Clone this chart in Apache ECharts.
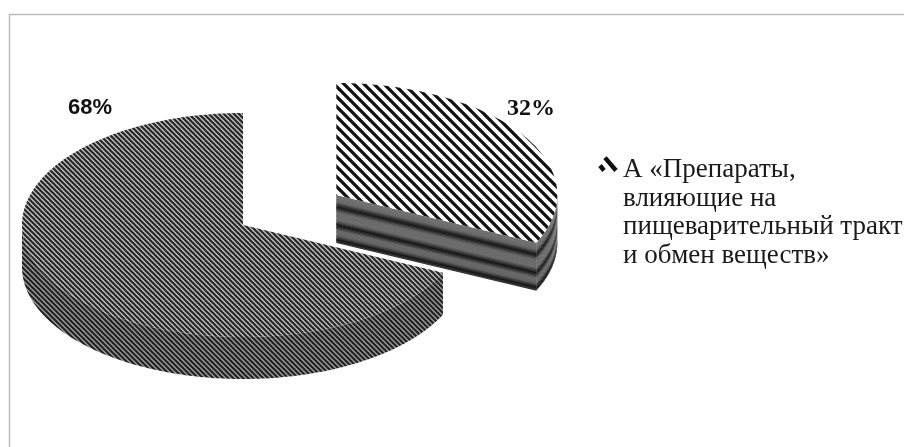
<!DOCTYPE html>
<html>
<head>
<meta charset="utf-8">
<script src="https://cdn.jsdelivr.net/npm/echarts@6/dist/echarts.min.js"></script>
<style>
  html, body { margin: 0; padding: 0; background: #fff; }
  #chart { width: 904px; height: 447px; }
</style>
</head>
<body>
<div id="chart"></div>
<script>
// Legend caption of the highlighted group, one entry per printed line
const legendLines = ['А «Препараты,', 'влияющие на', 'пищеварительный тракт', 'и обмен веществ»'];
// Slice categories (only the first one appears in the legend)
const categories = [legendLines.join(' '), 'Прочие'];
// Share of each category, %
const shares = [32, 68];

const rad = Math.PI / 180;

// Drawing layout for the tilted pie
const look = {
  cx: 243, cy: 225,      // pie centre
  rx: 221, ry: 112,      // ellipse radii of the top face
  depth: [48, 42],       // thickness of each slice
  explode: [0.5, 0],     // pull-out of each slice, in radius units
  labelAt: [[531, 109], [90, 108]],
  labelFont: ['bold 24px "Liberation Serif"', 'bold 22px "Liberation Sans"']
};

// Hatched tiles: diagonal "\" lines
function stripeTile(size, bg, fg, lw) {
  const c = document.createElement('canvas');
  c.width = c.height = size;
  const g = c.getContext('2d');
  g.fillStyle = bg;
  g.fillRect(0, 0, size, size);
  g.strokeStyle = fg;
  g.lineWidth = lw;
  g.beginPath();
  for (let k = -1; k <= 1; k++) {
    g.moveTo(k * size - 1, -1);
    g.lineTo(k * size + size + 1, size + 1);
  }
  g.stroke();
  return c;
}
const pat = (canvas) => ({ image: canvas, repeat: 'repeat' });

const sliceLook = [
  { // highlighted group: wide black-and-white hatch, banded sides
    top: pat(stripeTile(10, '#ffffff', '#111111', 3.3)),
    bands: [[0, 0x72], [0.14, 0x6a], [0.25, 0x14], [0.36, 0x6a], [0.52, 0x6c],
            [0.63, 0x14], [0.74, 0x6a], [0.84, 0x64], [0.93, 0x16], [1, 0x40]]
  },
  { // remaining share: fine grey hatch
    top: pat(stripeTile(5, '#d4d4d4', '#2c2c2c', 2.3)),
    side: pat(stripeTile(5, '#9a9a9a', '#222222', 2.1))
  }
];

function grayAt(stops, f) {
  for (let i = 1; i < stops.length; i++) {
    if (f <= stops[i][0]) {
      const [f0, v0] = stops[i - 1], [f1, v1] = stops[i];
      const v = Math.round(v0 + (v1 - v0) * (f - f0) / (f1 - f0));
      return 'rgb(' + v + ',' + v + ',' + v + ')';
    }
  }
  const v = stops[stops.length - 1][1];
  return 'rgb(' + v + ',' + v + ',' + v + ')';
}

function rimPoint(cx, cy, a) {
  return [cx + look.rx * Math.sin(a * rad), cy - look.ry * Math.cos(a * rad)];
}
function arc(cx, cy, a0, a1) {
  const n = Math.max(2, Math.ceil(Math.abs(a1 - a0)));
  const pts = [];
  for (let i = 0; i <= n; i++) pts.push(rimPoint(cx, cy, a0 + (a1 - a0) * i / n));
  return pts;
}

// A vertical wall hanging under the edge "edge", filled either with a pattern or with bands
function wall(edge, st, d) {
  if (st.side) {
    const pts = edge.concat(edge.slice().reverse().map(p => [p[0], p[1] + d]));
    return [{ type: 'polygon', shape: { points: pts }, style: { fill: st.side } }];
  }
  const out = [];
  const n = 36;
  for (let i = 0; i < n; i++) {
    const f0 = i / n, f1 = (i + 1) / n;
    const y0 = d * f0, y1 = Math.min(d, d * f1 + 0.7);
    const pts = edge.map(p => [p[0], p[1] + y0])
      .concat(edge.slice().reverse().map(p => [p[0], p[1] + y1]));
    out.push({ type: 'polygon', shape: { points: pts }, style: { fill: grayAt(st.bands, (f0 + f1) / 2) } });
  }
  return out;
}

function sliceRenderer(idx) {
  return function (params, api) {
    const total = shares.reduce((s, v) => s + v, 0);
    const before = shares.slice(0, idx).reduce((s, v) => s + v, 0);
    const val = api.value(0);
    const a0 = before / total * 360;
    const a1 = (before + val) / total * 360;
    const mid = (a0 + a1) / 2;
    const ex = look.explode[idx];
    const d = look.depth[idx];
    const cx = look.cx + look.rx * ex * Math.sin(mid * rad);
    const cy = look.cy - look.ry * ex * Math.cos(mid * rad);
    const st = sliceLook[idx];
    const children = [];

    // radial cut faces that turn toward the viewer
    if (Math.sin(a1 * rad) > 0.01) children.push(...wall([[cx, cy], rimPoint(cx, cy, a1)], st, d));
    if (Math.sin(a0 * rad) < -0.01) children.push(...wall([[cx, cy], rimPoint(cx, cy, a0)], st, d));
    // front part of the rim
    const s = Math.max(a0, 90), e = Math.min(a1, 270);
    if (e > s) children.push(...wall(arc(cx, cy, s, e), st, d));
    // top face
    children.push({
      type: 'polygon',
      shape: { points: [[cx, cy]].concat(arc(cx, cy, a0, a1)) },
      style: { fill: st.top }
    });
    // percentage label
    children.push({
      type: 'text',
      x: look.labelAt[idx][0], y: look.labelAt[idx][1],
      style: {
        text: Math.round(val / total * 100) + '%',
        font: look.labelFont[idx],
        fill: '#111',
        align: 'center', verticalAlign: 'middle'
      }
    });
    return { type: 'group', children };
  };
}

// Legend mark: a short "\" stroke with a small blob, inside a tall box so that it sits on the first text line
const legendIcon = 'path://M0,0h0.01 M21,115h0.01 ' +
  'M9.7,0.6 L20.7,13.6 L17.3,16.4 L6.3,3.4 Z ' +
  'M4.7,8.6 L8.7,13.6 L5.3,16.4 L1.3,11.4 Z';

const chart = echarts.init(document.getElementById('chart'), null, { renderer: 'canvas' });
chart.setOption({
  animation: false,
  backgroundColor: '#ffffff',
  graphic: [{
    type: 'rect', left: 7, top: 12,
    shape: { width: 920, height: 460 },
    style: { fill: 'none', stroke: '#bcbcbc', lineWidth: 1.5 },
    silent: true
  }],
  legend: {
    data: [categories[0]],
    left: 597, top: 155.5,
    padding: 0,
    orient: 'vertical',
    icon: legendIcon,
    itemWidth: 21, itemHeight: 115,
    itemStyle: { color: '#111' },
    formatter: () => legendLines.join('\n'),
    textStyle: { fontFamily: 'Liberation Serif', fontSize: 27, lineHeight: 28.75, color: '#1a1a1a' },
    selectedMode: false
  },
  series: shares.map((v, i) => ({
    type: 'custom',
    name: categories[i],
    coordinateSystem: 'none',
    silent: true,
    z: i === 0 ? 3 : 2,
    itemStyle: { color: '#111' },
    renderItem: sliceRenderer(i),
    data: [[v]]
  }))
});
</script>
</body>
</html>
